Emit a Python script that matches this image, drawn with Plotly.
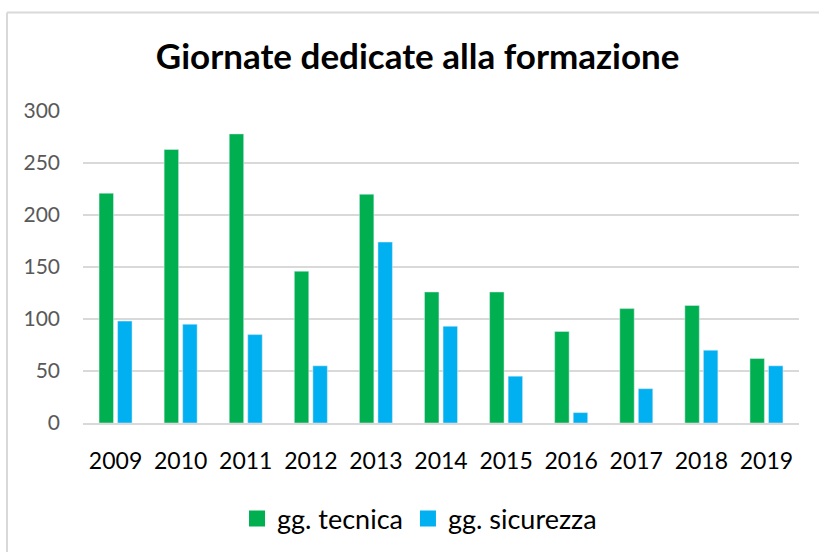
import plotly.graph_objects as go

years = ["2009", "2010", "2011", "2012", "2013", "2014", "2015", "2016", "2017", "2018", "2019"]
tecnica = [221, 263, 278, 146, 220, 126, 126, 88, 110, 113, 62]
sicurezza = [98, 95, 85, 55, 174, 93, 45, 10, 33, 70, 55]
y_ticks = [0, 50, 100, 150, 200, 250, 300]

GREEN = "#00B050"
BLUE = "#00B0F0"
FONT = "Lato"

fig = go.Figure()
fig.add_trace(go.Bar(x=years, y=tecnica, name="gg. tecnica", marker_color=GREEN,
                     showlegend=False))
fig.add_trace(go.Bar(x=years, y=sicurezza, name="gg. sicurezza", marker_color=BLUE,
                     showlegend=False))
# legend entries with larger square symbols
fig.add_trace(go.Scatter(x=[None], y=[None], mode="markers", name="gg. tecnica",
                         marker=dict(symbol="square", size=16, color=GREEN)))
fig.add_trace(go.Scatter(x=[None], y=[None], mode="markers", name="gg. sicurezza",
                         marker=dict(symbol="square", size=16, color=BLUE)))

fig.update_layout(
    width=819, height=552,
    margin=dict(l=83, r=20, t=111, b=129),
    paper_bgcolor="white", plot_bgcolor="white",
    barmode="group", bargap=0.43, bargroupgap=0.22,
    title=dict(text="<b>Giornate dedicate alla formazione</b>",
               x=0.51, xanchor="center", y=1 - 57 / 552, yanchor="middle",
               yref="container",
               font=dict(family=FONT, size=35, color="black")),
    font=dict(family=FONT),
    legend=dict(orientation="h", x=0.47, xanchor="center",
                y=1 - 519 / 552, yanchor="middle", yref="container",
                font=dict(family=FONT, size=27, color="black"),
                itemwidth=30, tracegroupgap=0),
    xaxis=dict(type="category", showgrid=False, showline=True,
               linecolor="#d9d9d9", linewidth=2, ticks="",
               tickfont=dict(family=FONT, size=23, color="black"),
               ticklabelstandoff=16),
    yaxis=dict(range=[0, 300], tickvals=y_ticks, showgrid=True,
               gridcolor="#d9d9d9", gridwidth=2, zeroline=False, showline=False,
               ticks="", tickfont=dict(family=FONT, size=21, color="#595959"),
               ticklabelstandoff=22),
    shapes=[
        dict(type="line", xref="paper", yref="paper",
             x0=(7 - 83) / 716, x1=(7 - 83) / 716,
             y0=(423.3 - 12) / 312.6, y1=(423.3 - 560) / 312.6,
             line=dict(color="#d9d9d9", width=2)),
        dict(type="line", xref="paper", yref="paper",
             x0=(7 - 83) / 716, x1=(830 - 83) / 716,
             y0=(423.3 - 12) / 312.6, y1=(423.3 - 12) / 312.6,
             line=dict(color="#d9d9d9", width=2)),
    ],
)

fig.write_html("out.html", config={"displayModeBar": False},
               post_script="document.body.style.margin='0';")
